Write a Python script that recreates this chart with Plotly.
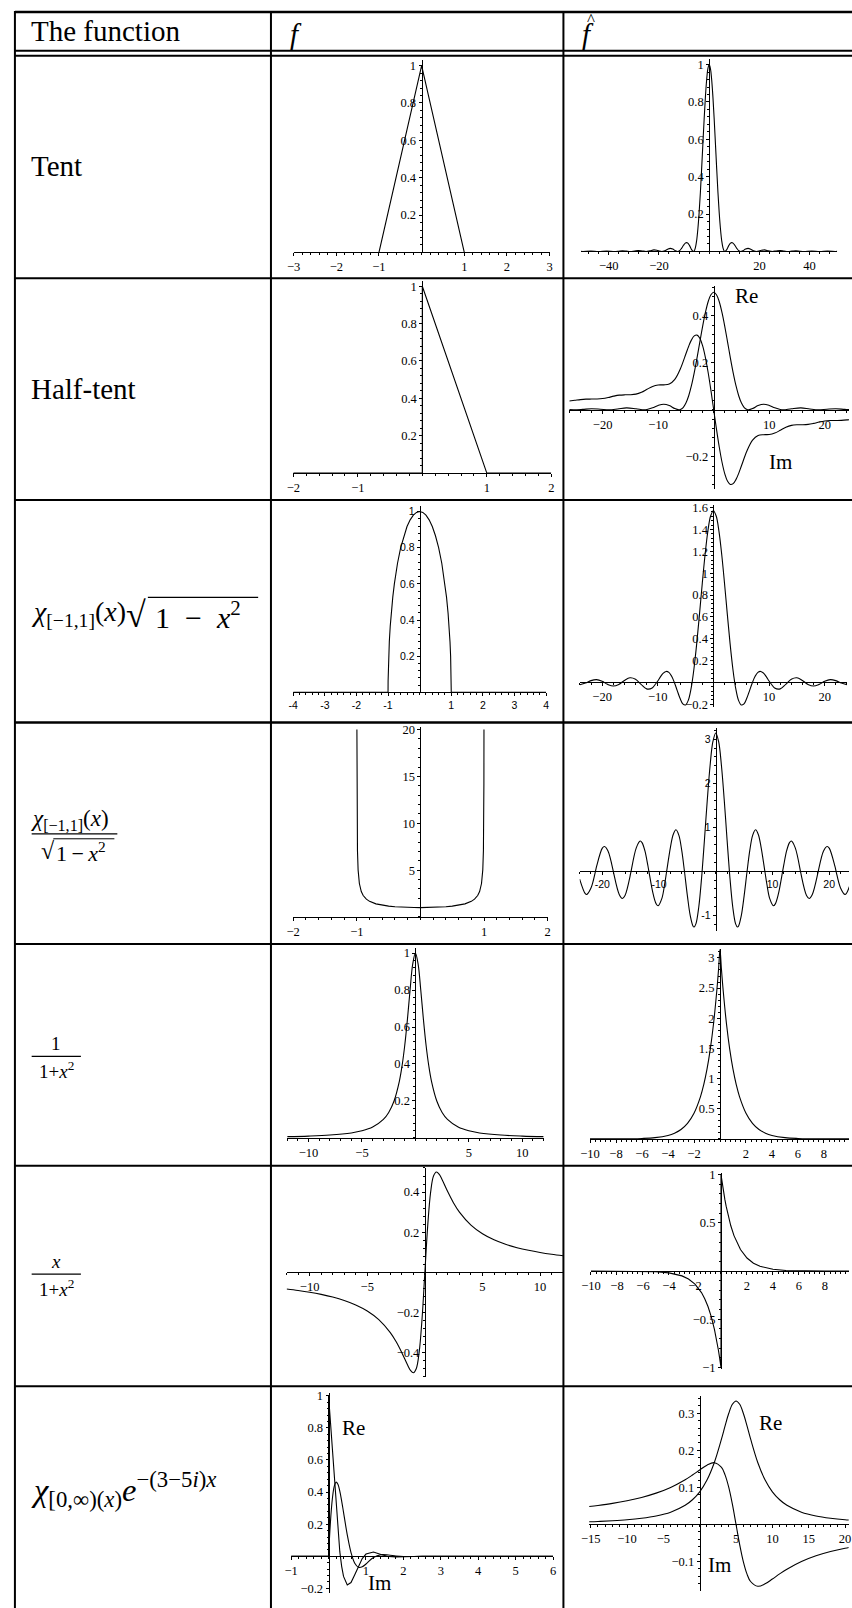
import plotly.graph_objects as go

W, H = 852, 1608

# ---------------- curve data ----------------
tent_x = [-3, -1, 0, 1, 3]
tent_y = [0, 0, 1, 0, 0]

tent_hat_w = [-51, -50.27, -47.12, -43.98, -40.84, -37.7, -36.1, -34.56, -33, -31.42,
              -29.8, -28.3, -26.7, -25.13, -23.6, -22, -20.4, -18.85, -17.7, -16.5,
              -15.5, -14.5, -13.5, -12.57, -11.8, -11, -10.2, -9.5, -9, -8.5,
              -7.85, -7, -6.28, -6, -5.5, -5, -4.5, -4, -3.5, -3,
              -2.5, -2, -1.5, -1, -0.5, 0,
              0.5, 1, 1.5, 2, 2.5, 3, 3.5, 4, 4.5, 5,
              5.5, 6, 6.28, 7, 7.85, 8.5, 9, 9.5, 10.2, 11,
              11.8, 12.57, 13.5, 14.5, 15.5, 16.5, 17.7, 18.85, 20.4, 22,
              23.6, 25.13, 26.7, 28.3, 29.8, 31.42, 33, 34.56, 36.1, 37.7,
              40.84, 43.98, 47.12, 50.27, 51]
tent_hat_v = [0.0003, 0, 0.0018, 0, 0.0024, 0, 0.0013, 0.0034, 0.0019, 0,
              0.0024, 0.005, 0.0028, 0, 0.0035, 0.0083, 0.0047, 0, 0.0036, 0.0124,
              0.0165, 0.0129, 0.0044, 0, 0.004, 0.0165, 0.033, 0.0443, 0.0472, 0.0443,
              0.0325, 0.01, 0, 0.002, 0.019, 0.057, 0.12, 0.207, 0.316, 0.442,
              0.576, 0.708, 0.826, 0.919, 0.979, 1,
              0.979, 0.919, 0.826, 0.708, 0.576, 0.442, 0.316, 0.207, 0.12, 0.057,
              0.019, 0.002, 0, 0.01, 0.0325, 0.0443, 0.0472, 0.0443, 0.033, 0.0165,
              0.004, 0, 0.0044, 0.0129, 0.0165, 0.0124, 0.0036, 0, 0.0047, 0.0083,
              0.0035, 0, 0.0028, 0.005, 0.0024, 0, 0.0019, 0.0034, 0.0013, 0,
              0.0024, 0, 0.0018, 0, 0.0003]

half_x = [-2, 0, 0, 1, 2]
half_y = [0, 0, 1, 0, 0]

half_re_w = [-26, -25.13, -23.6, -22, -20.4, -18.85, -17.3, -15.7, -14, -12.57,
             -12, -11, -10, -9, -8, -7, -6.28, -6, -5.5, -5, -4.5, -4, -3.5, -3,
             -2.5, -2, -1.5, -1, -0.5, 0, 0.5, 1, 1.5, 2, 2.5, 3, 3.5, 4, 4.5, 5,
             5.5, 6, 6.28, 7, 8, 9, 10, 11, 12, 12.57, 14, 15.7, 17.3, 18.85, 20.4,
             22, 23.6, 25.13, 26]
half_re_v = [0.0005, 0, 0.0017, 0.0041, 0.0024, 0, 0.0033, 0.0081, 0.0044, 0,
             0.0011, 0.0082, 0.0184, 0.0236, 0.0179, 0.005, 0, 0.0011, 0.0096, 0.0287,
             0.0598, 0.1034, 0.1581, 0.2211, 0.2882, 0.354, 0.413, 0.4597, 0.4896, 0.5,
             0.4896, 0.4597, 0.413, 0.354, 0.2882, 0.2211, 0.1581, 0.1034, 0.0598, 0.0287,
             0.0096, 0.0011, 0, 0.005, 0.0179, 0.0236, 0.0184, 0.0082, 0.0011, 0,
             0.0044, 0.0081, 0.0033, 0, 0.0024, 0.0041, 0.0017, 0, 0.0005]

half_im_w = [-26, -25, -24, -23, -22, -21, -20, -19, -18, -17, -16, -15, -14, -13,
             -12, -11, -10, -9, -8, -7, -6, -5, -4.5, -4, -3.5, -3, -2.5, -2, -1.5,
             -1, -0.5, 0, 0.5, 1, 1.5, 2, 2.5, 3, 3.5, 4, 4.5, 5, 6, 7, 8, 9, 10,
             11, 12, 13, 14, 15, 16, 17, 18, 19, 20, 21, 22, 23, 24, 25, 26]
half_im_v = [0.0373, 0.0402, 0.0432, 0.0451, 0.0455, 0.0457, 0.0477, 0.0522, 0.0579,
             0.0622, 0.0636, 0.0638, 0.0664, 0.0744, 0.0871, 0.0992, 0.1054, 0.106,
             0.1095, 0.1294, 0.1744, 0.2384, 0.2705, 0.2973, 0.3144, 0.3177, 0.3042,
             0.2727, 0.2233, 0.1585, 0.0824, 0,
             -0.0824, -0.1585, -0.2233, -0.2727, -0.3042, -0.3177, -0.3144, -0.2973,
             -0.2705, -0.2384, -0.1744, -0.1294, -0.1095, -0.106, -0.1054, -0.0992,
             -0.0871, -0.0744, -0.0664, -0.0638, -0.0636, -0.0622, -0.0579, -0.0522,
             -0.0477, -0.0457, -0.0455, -0.0451, -0.0432, -0.0402, -0.0373]

semi_x = [-4, -1, -0.998, -0.99, -0.98, -0.96, -0.93, -0.9, -0.85, -0.8, -0.7, -0.6,
          -0.5, -0.4, -0.3, -0.2, -0.1, 0, 0.1, 0.2, 0.3, 0.4, 0.5, 0.6, 0.7, 0.8,
          0.85, 0.9, 0.93, 0.96, 0.98, 0.99, 0.998, 1, 4]
semi_y = [0, 0, 0.063, 0.141, 0.199, 0.28, 0.368, 0.436, 0.527, 0.6, 0.714, 0.8,
          0.866, 0.917, 0.954, 0.98, 0.995, 1, 0.995, 0.98, 0.954, 0.917, 0.866, 0.8,
          0.714, 0.6, 0.527, 0.436, 0.368, 0.28, 0.199, 0.141, 0.063, 0, 0]

semi_hat_w = [-24, -23, -22, -21, -20, -19, -18, -17, -16, -15, -14, -13, -12, -11,
              -10.5, -10, -9.5, -9, -8.5, -8, -7.5, -7, -6.5, -6, -5.5, -5, -4.5, -4,
              -3.83, -3.5, -3, -2.5, -2, -1.5, -1, -0.5, 0, 0.5, 1, 1.5, 2, 2.5, 3,
              3.5, 3.83, 4, 4.5, 5, 5.5, 6, 6.5, 7, 7.5, 8, 8.5, 9, 9.5, 10, 10.5,
              11, 12, 13, 14, 15, 16, 17, 18, 19, 20, 21, 22, 23, 24]
semi_hat_v = [-0.0202, -0.0054, 0.0167, 0.0256, 0.0105, -0.0175, -0.0328, -0.0181,
              0.0178, 0.043, 0.0299, -0.017, -0.0585, -0.0505, -0.021, 0.0137, 0.0533,
              0.0856, 0.1009, 0.0921, 0.0566, -0.0021, -0.0743, -0.1449, -0.195,
              -0.2058, -0.1613, -0.0518, 0, 0.1233, 0.3551, 0.6247, 0.9059, 1.1685,
              1.3826, 1.5224, 1.5708, 1.5224, 1.3826, 1.1685, 0.9059, 0.6247, 0.3551,
              0.1233, 0, -0.0518, -0.1613, -0.2058, -0.195, -0.1449, -0.0743, -0.0021,
              0.0566, 0.0921, 0.1009, 0.0856, 0.0533, 0.0137, -0.021, -0.0505, -0.0585,
              -0.017, 0.0299, 0.043, 0.0178, -0.0181, -0.0328, -0.0175, 0.0105, 0.0256,
              0.0167, -0.0054, -0.0202]

inv_x = [-0.99875, -0.9975, -0.995, -0.99, -0.98, -0.96, -0.93, -0.9, -0.85, -0.8,
         -0.7, -0.6, -0.5, -0.4, -0.3, -0.2, -0.1, 0, 0.1, 0.2, 0.3, 0.4, 0.5, 0.6,
         0.7, 0.8, 0.85, 0.9, 0.93, 0.96, 0.98, 0.99, 0.995, 0.9975, 0.99875]
inv_y = [20, 14.15, 10.01, 7.09, 5.03, 3.57, 2.72, 2.29, 1.9, 1.667, 1.4, 1.25, 1.155,
         1.091, 1.048, 1.021, 1.005, 1, 1.005, 1.021, 1.048, 1.091, 1.155, 1.25, 1.4,
         1.667, 1.9, 2.29, 2.72, 3.57, 5.03, 7.09, 10.01, 14.15, 20]

inv_hat_w = [-24, -23, -22.76, -22, -21.21, -21, -20, -19.62, -19, -18.07, -18, -17,
             -16.47, -16, -15, -14.93, -14, -13.32, -13, -12.5, -12, -11.79, -11,
             -10.5, -10.17, -9.5, -9, -8.654, -8, -7.5, -7.016, -6.5, -6, -5.52, -5,
             -4.5, -4, -3.83, -3.5, -3, -2.5, -2.405, -2, -1.5, -1, -0.5, 0, 0.5, 1,
             1.5, 2, 2.405, 2.5, 3, 3.5, 3.83, 4, 4.5, 5, 5.52, 6, 6.5, 7.016, 7.5,
             8, 8.654, 9, 9.5, 10.17, 10.5, 11, 11.79, 12, 12.5, 13, 13.32, 14, 14.93,
             15, 16, 16.47, 17, 18, 18.07, 19, 19.62, 20, 21, 21.21, 22, 22.76, 23, 24]
inv_hat_v = [-0.1766, -0.5102, -0.5253, -0.3792, 0, 0.1162, 0.5247, 0.5636, 0.4606,
             0, -0.0421, -0.5338, -0.6173, -0.5495, -0.0446, 0, 0.5375, 0.686, 0.65,
             0.4675, 0.1499, 0, -0.5378, -0.74, -0.7844, -0.6154, -0.2837, 0, 0.5394,
             0.8366, 0.9428, 0.8171, 0.4731, 0, -0.558, -1.0069, -1.2475, -1.2654,
             -1.1941, -0.8171, -0.152, 0, 0.7034, 1.6079, 2.404, 2.9484, 3.1416,
             2.9484, 2.404, 1.6079, 0.7034, 0, -0.152, -0.8171, -1.1941, -1.2654,
             -1.2475, -1.0069, -0.558, 0, 0.4731, 0.8171, 0.9428, 0.8366, 0.5394, 0,
             -0.2837, -0.6154, -0.7844, -0.74, -0.5378, 0, 0.1499, 0.4675, 0.65, 0.686,
             0.5375, 0, -0.0446, -0.5495, -0.6173, -0.5338, -0.0421, 0, 0.4606, 0.5636,
             0.5247, 0.1162, 0, -0.3792, -0.5253, -0.5102, -0.1766]

lor_x = [-12, -10, -8, -6, -5, -4, -3, -2.5, -2, -1.5, -1.25, -1, -0.75, -0.5, -0.25,
         0, 0.25, 0.5, 0.75, 1, 1.25, 1.5, 2, 2.5, 3, 4, 5, 6, 8, 10, 12]
lor_y = [0.0069, 0.0099, 0.0154, 0.027, 0.0385, 0.0588, 0.1, 0.1379, 0.2, 0.3077,
         0.3902, 0.5, 0.64, 0.8, 0.9412, 1, 0.9412, 0.8, 0.64, 0.5, 0.3902, 0.3077,
         0.2, 0.1379, 0.1, 0.0588, 0.0385, 0.027, 0.0154, 0.0099, 0.0069]

lor_hat_w = [-10, -8, -7, -6, -5, -4, -3.5, -3, -2.5, -2, -1.5, -1.25, -1, -0.75,
             -0.5, -0.25, -0.1, 0, 0.1, 0.25, 0.5, 0.75, 1, 1.25, 1.5, 2, 2.5, 3, 3.5,
             4, 5, 6, 7, 8, 10]
lor_hat_v = [0.0001, 0.0011, 0.0029, 0.0078, 0.0212, 0.0575, 0.0949, 0.1564, 0.2579,
             0.4252, 0.701, 0.9, 1.1557, 1.484, 1.9055, 2.4467, 2.8426, 3.1416, 2.8426,
             2.4467, 1.9055, 1.484, 1.1557, 0.9, 0.701, 0.4252, 0.2579, 0.1564, 0.0949,
             0.0575, 0.0212, 0.0078, 0.0029, 0.0011, 0.0001]

odd_x = [-12, -11, -10, -9, -8, -7, -6, -5, -4, -3, -2.5, -2, -1.5, -1.25, -1, -0.75,
         -0.5, -0.25, 0, 0.25, 0.5, 0.75, 1, 1.25, 1.5, 2, 2.5, 3, 4, 5, 6, 7, 8, 9,
         10, 11, 12]
odd_y = [-0.0828, -0.0902, -0.099, -0.1098, -0.1231, -0.14, -0.1622, -0.1923, -0.2353,
         -0.3, -0.3448, -0.4, -0.4615, -0.4878, -0.5, -0.48, -0.4, -0.2353, 0, 0.2353,
         0.4, 0.48, 0.5, 0.4878, 0.4615, 0.4, 0.3448, 0.3, 0.2353, 0.1923, 0.1622,
         0.14, 0.1231, 0.1098, 0.099, 0.0902, 0.0828]

odd_hat_w = [-10, -8, -6, -5, -4, -3.5, -3, -2.5, -2, -1.5, -1.25, -1, -0.75, -0.5,
             -0.4, -0.3, -0.2, -0.1, -0.05, 0, 0, 0.05, 0.1, 0.2, 0.3, 0.4, 0.5, 0.75,
             1, 1.25, 1.5, 2, 2.5, 3, 3.5, 4, 5, 6, 8, 10]
odd_hat_v = [0, -0.0003, -0.0025, -0.0067, -0.0183, -0.0302, -0.0498, -0.0821, -0.1353,
             -0.2231, -0.2865, -0.3679, -0.4724, -0.6065, -0.6703, -0.7408, -0.8187,
             -0.9048, -0.9512, -1, 1, 0.9512, 0.9048, 0.8187, 0.7408, 0.6703, 0.6065,
             0.4724, 0.3679, 0.2865, 0.2231, 0.1353, 0.0821, 0.0498, 0.0302, 0.0183,
             0.0067, 0.0025, 0.0003, 0]

damp_x = [-1, 0, 0, 0.05, 0.1, 0.15, 0.2, 0.25, 0.3, 0.35, 0.4, 0.5, 0.6, 0.7, 0.8,
          0.9, 1.0, 1.2, 1.4, 1.6, 1.8, 2, 2.5, 3, 4, 5, 6]
damp_re = [0, 0, 1, 0.834, 0.65, 0.4666, 0.2965, 0.149, 0.0287, -0.0624, -0.1253,
           -0.1787, -0.1636, -0.1147, -0.0593, -0.0142, 0.0141, 0.0262, 0.0113,
           -0.0012, -0.0041, -0.0021, 0.0005, 0, 0, 0, 0]
damp_im = [0, 0, 0, 0.2129, 0.3551, 0.4346, 0.4618, 0.4483, 0.4056, 0.3443, 0.2739,
           0.1335, 0.0233, -0.043, -0.0686, -0.0657, -0.0478, -0.0076, 0.0099, 0.0081,
           0.0019, -0.0014, 0, 0, 0, 0, 0]

damp_hat_w = [-16, -14, -12, -10, -8, -6, -4, -2, -1, 0, 1, 2, 3, 3.5, 4, 4.5, 5, 5.5,
              6, 6.5, 7, 8, 9, 10, 11, 12, 14, 16, 18, 20, 22]
damp_hat_re = [0.0067, 0.0081, 0.0101, 0.0128, 0.0169, 0.0231, 0.0333, 0.0517, 0.0667,
               0.0882, 0.12, 0.1667, 0.2308, 0.2667, 0.3, 0.3243, 0.3333, 0.3243, 0.3,
               0.2667, 0.2308, 0.1667, 0.12, 0.0882, 0.0667, 0.0517, 0.0333, 0.0231,
               0.0169, 0.0128, 0.0101]
damp_hat_im = [0.0467, 0.0514, 0.057, 0.0641, 0.073, 0.0846, 0.1, 0.1207, 0.1333,
               0.1471, 0.16, 0.1667, 0.1538, 0.1333, 0.1, 0.0541, 0, -0.0541, -0.1,
               -0.1333, -0.1538, -0.1667, -0.16, -0.1471, -0.1333, -0.1207, -0.1,
               -0.0846, -0.073, -0.0641, -0.057]

# tick values for each panel
tk_tent_x = [-3, -2, -1, 1, 2, 3]
tk_unit_y = [0.2, 0.4, 0.6, 0.8, 1]
tk_tent_hat_x = [-40, -20, 20, 40]
tk_half_x = [-2, -1, 1, 2]
tk_half_hat_x = [-20, -10, 10, 20]
tk_half_hat_y = [-0.2, 0.2, 0.4]
tk_semi_x = [-4, -3, -2, -1, 1, 2, 3, 4]
tk_semi_hat_y = [-0.2, 0.2, 0.4, 0.6, 0.8, 1, 1.2, 1.4, 1.6]
tk_inv_y = [5, 10, 15, 20]
tk_inv_hat_y = [-1, 1, 2, 3]
tk_lor_x = [-10, -5, 5, 10]
tk_lor_hat_x = [-10, -8, -6, -4, -2, 2, 4, 6, 8, 10]
tk_lor_hat_y = [0.5, 1, 1.5, 2, 2.5, 3]
tk_odd_y = [-0.4, -0.2, 0.2, 0.4]
tk_odd_hat_y = [-1, -0.5, 0.5, 1]
tk_damp_x = [-1, 1, 2, 3, 4, 5, 6]
tk_damp_y = [-0.2, 0.2, 0.4, 0.6, 0.8, 1]
tk_damp_hat_x = [-15, -10, -5, 5, 10, 15, 20]
tk_damp_hat_y = [-0.1, 0.1, 0.2, 0.3]

row_names = ["Tent", "Half-tent"]

SERIF = "Liberation Serif"
SANS = "Liberation Sans"


# ---------------- helpers ----------------
def PX(x):
    return x / W


def PY(y):
    return 1 - y / H


def fmt(v, minus):
    s = ("%g" % abs(v))
    return (minus + s) if v < 0 else s


fig = go.Figure()
layout_axes = {}
panel_count = [0]


def panel(ox, oy, sx, sy, xr, yr, xt, yt, xminor, yminor, sans=False):
    """Cartesian panel with axes crossing at the origin (ox, oy) in pixels."""
    panel_count[0] += 1
    n = panel_count[0]
    sfx = "" if n == 1 else str(n)
    xr = list(xr)
    yr = list(yr)
    # the view is cut at the page edge
    if ox + xr[1] * sx > W:
        xr[1] = (W - ox) / sx
    x0 = ox + xr[0] * sx
    x1 = ox + xr[1] * sx
    ytop = oy - yr[1] * sy
    ybot = oy - yr[0] * sy
    minus = "-" if sans else "\u2212"
    tf = dict(family=SANS if sans else SERIF, size=10.5 if sans else 12.5,
              color="black")
    common = dict(anchor="free", showline=True, linecolor="black", linewidth=1,
                  showgrid=False, zeroline=False, tickmode="array",
                  ticks="outside", ticklen=3, tickwidth=1, tickcolor="black",
                  tickfont=tf, fixedrange=True, layer="above traces")
    layout_axes["xaxis" + sfx] = dict(
        domain=[PX(x0), PX(x1)], range=xr, position=PY(oy),
        tickvals=xt, ticktext=[fmt(v, minus) for v in xt],
        minor=dict(tickmode="linear", tick0=0, dtick=xminor, ticks="outside",
                   ticklen=2, tickwidth=1, tickcolor="black", showgrid=False),
        **common)
    layout_axes["yaxis" + sfx] = dict(
        domain=[PY(ybot), PY(ytop)], range=yr, position=PX(ox),
        tickvals=yt, ticktext=[fmt(v, minus) for v in yt],
        minor=dict(tickmode="linear", tick0=0, dtick=yminor, ticks="outside",
                   ticklen=2, tickwidth=1, tickcolor="black", showgrid=False),
        **common)
    return "x" + sfx, "y" + sfx


def curve(ax, xs, ys, shape="linear"):
    fig.add_trace(go.Scatter(x=xs, y=ys, mode="lines", xaxis=ax[0], yaxis=ax[1],
                             line=dict(color="black", width=1.1, shape=shape),
                             hoverinfo="skip", showlegend=False))


# ---------------- panels ----------------
a = panel(418, 249, 43.33, 188, (-3, 3), (0, 1.03), tk_tent_x, tk_unit_y, 0.2, 0.04)
curve(a, tent_x, tent_y)

a = panel(710, 248, 2.55, 188, (-51, 51), (0, 1.03), tk_tent_hat_x, tk_unit_y, 4, 0.04)
curve(a, tent_hat_w, tent_hat_v, "spline")

a = panel(418.7, 471, 65.5, 188, (-2, 2), (0, 1.03), tk_half_x, tk_unit_y, 0.2, 0.04)
curve(a, half_x, half_y)

a = panel(714.6, 407.3, 5.64, 236.5, (-26, 26), (-0.337, 0.526), tk_half_hat_x,
          tk_half_hat_y, 2, 0.04)
curve(a, half_re_w, half_re_v, "spline")
curve(a, half_im_w, half_im_v, "spline")

a = panel(416, 691.7, 32.1, 182, (-4, 4), (0, 1.03), tk_semi_x, tk_unit_y, 0.2, 0.04,
          sans=True)
curve(a, semi_x, semi_y)

a = panel(714.3, 681.7, 5.65, 110, (-24, 24), (-0.225, 1.62), tk_half_hat_x,
          tk_semi_hat_y, 2, 0.04)
curve(a, semi_hat_w, semi_hat_v, "spline")

a = panel(416.8, 917.7, 64.6, 9.43, (-2, 2), (0, 20.3), tk_half_x, tk_inv_y, 0.2, 1)
curve(a, inv_x, inv_y)

a = panel(716.7, 871.7, 5.76, 44.3, (-24, 24), (-1.36, 3.25), tk_half_hat_x,
          tk_inv_hat_y, 2, 0.2, sans=True)
curve(a, inv_hat_w, inv_hat_v, "spline")

a = panel(411.7, 1140, 10.85, 186, (-12, 12), (0, 1.03), tk_lor_x, tk_unit_y, 1, 0.04)
curve(a, lor_x, lor_y, "spline")

a = panel(721, 1141, 13.2, 60.7, (-10, 10), (0, 3.15), tk_lor_hat_x, tk_lor_hat_y,
          0.4, 0.1)
curve(a, lor_hat_w, lor_hat_v, "spline")

a = panel(421.3, 1275.3, 11.7, 202, (-12, 12), (-0.52, 0.52), tk_lor_x, tk_odd_y, 1,
          0.04)
curve(a, odd_x, odd_y, "spline")

a = panel(722, 1274, 13.2, 97, (-10, 10), (-1.02, 1.02), tk_lor_hat_x, tk_odd_hat_y,
          0.4, 0.1)
curve(a, odd_hat_w, odd_hat_v)

a = panel(323.5, 1561, 38, 161.5, (-1, 6), (-0.23, 1.02), tk_damp_x, tk_damp_y,
          0.2, 0.04)
curve(a, damp_x, damp_re)
curve(a, damp_x, damp_im, "spline")

a = panel(700.4, 1529, 7.38, 373, (-15.2, 20.5), (-0.179, 0.346), tk_damp_hat_x,
          tk_damp_hat_y, 1, 0.02)
curve(a, damp_hat_w, damp_hat_re, "spline")
curve(a, damp_hat_w, damp_hat_im, "spline")

# ---------------- table rules ----------------
shapes = []


def seg(x0, y0, x1, y1, w):
    shapes.append(dict(type="line", xref="paper", yref="paper", x0=PX(x0), x1=PX(x1),
                       y0=PY(y0), y1=PY(y1), line=dict(color="black", width=w)))


for yy, ww in [(7, 2.5), (46, 2), (51, 2), (275, 2), (498, 2), (722, 2.5),
               (945, 2), (1168, 2), (1390, 2)]:
    seg(5, yy, 870, yy, ww)
for xx in [5, 265, 562]:
    seg(xx, 6, xx, 1620, 2)

# ---------------- text ----------------
annots = []


def text(x, y, s, size=29, xanchor="left", family=SERIF):
    annots.append(dict(x=PX(x), y=PY(y), xref="paper", yref="paper", text=s,
                       showarrow=False, xanchor=xanchor, yanchor="middle",
                       borderpad=0, font=dict(family=family, size=size, color="black")))


text(20, 26, "The function")
text(283, 29, "<i>f</i>")
text(580, 29, "<i>f</i>")
text(585, 15, "^", size=17)

text(20, 162, row_names[0])
text(20, 386, row_names[1])

# chi_[-1,1](x) sqrt(1 - x^2)
text(20, 612, "<i>\u03c7</i><sub>[\u22121,1]</sub>(<i>x</i>)", size=28)
text(117, 614, "\u221a", size=36)
text(146, 614, "1\u2002\u2212\u2002<i>x</i><sup>2</sup>", size=30)
seg(140, 596, 252, 596, 1.3)

# chi_[-1,1](x) / sqrt(1-x^2)
text(20, 820, "<i>\u03c7</i><sub>[\u22121,1]</sub>(<i>x</i>)", size=23)
seg(22, 834, 109, 834, 1.2)
text(30, 851, "\u221a", size=24)
text(46, 852, "1\u2009\u2212\u2009<i>x</i><sup>2</sup>", size=22)
seg(44, 839, 106, 839, 1)

# 1/(1+x^2)
text(47, 1045, "1", size=19, xanchor="center")
seg(22, 1058, 72, 1058, 1.2)
text(47, 1072, "1+<i>x</i><sup>2</sup>", size=19, xanchor="center")

# x/(1+x^2)
text(47, 1264, "<i>x</i>", size=19, xanchor="center")
seg(22, 1277, 72, 1277, 1.2)
text(47, 1291, "1+<i>x</i><sup>2</sup>", size=19, xanchor="center")

text(20, 1494, "<i>\u03c7</i><sub>[0,\u221e)(<i>x</i>)</sub><i>e</i><sup>\u2212(3\u22125<i>i</i>)<i>x</i></sup>",
     size=32.5)

# curve labels
text(748, 293, "Re", size=21, xanchor="center")
text(782, 460, "Im", size=21, xanchor="center")
text(349, 1432, "Re", size=21, xanchor="center")
text(375, 1588, "Im", size=21, xanchor="center")
text(772, 1427, "Re", size=21, xanchor="center")
text(721, 1570, "Im", size=21, xanchor="center")

fig.update_layout(width=W, height=H, margin=dict(l=0, r=0, t=0, b=0),
                  paper_bgcolor="white", plot_bgcolor="rgba(0,0,0,0)",
                  showlegend=False, shapes=shapes, annotations=annots, **layout_axes)

fig.write_html("out.html", post_script="document.body.style.margin='0px';")
